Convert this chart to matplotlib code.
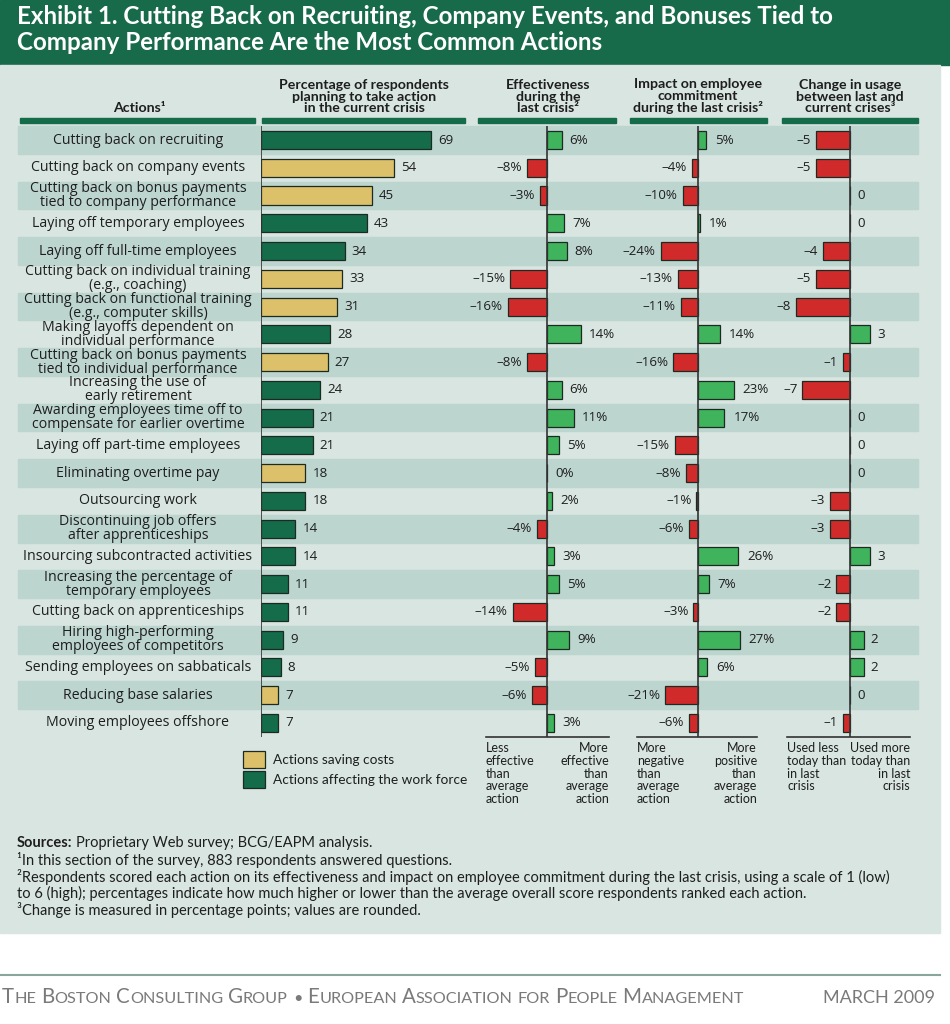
import matplotlib
matplotlib.use("Agg")
import matplotlib.pyplot as plt
from matplotlib.patches import Rectangle

# ---- data ----
actions = [
    "Cutting back on recruiting",
    "Cutting back on company events",
    "Cutting back on bonus payments\ntied to company performance",
    "Laying off temporary employees",
    "Laying off full-time employees",
    "Cutting back on individual training\n(e.g., coaching)",
    "Cutting back on functional training\n(e.g., computer skills)",
    "Making layoffs dependent on\nindividual performance",
    "Cutting back on bonus payments\ntied to individual performance",
    "Increasing the use of\nearly retirement",
    "Awarding employees time off to\ncompensate for earlier overtime",
    "Laying off part-time employees",
    "Eliminating overtime pay",
    "Outsourcing work",
    "Discontinuing job offers\nafter apprenticeships",
    "Insourcing subcontracted activities",
    "Increasing the percentage of\ntemporary employees",
    "Cutting back on apprenticeships",
    "Hiring high-performing\nemployees of competitors",
    "Sending employees on sabbaticals",
    "Reducing base salaries",
    "Moving employees offshore",
]
pct_planning = [69, 54, 45, 43, 34, 33, 31, 28, 27, 24, 21, 21, 18, 18, 14, 14, 11, 11, 9, 8, 7, 7]
saves_costs = [False, True, True, False, False, True, True, False, True, False, False,
               False, True, False, False, False, False, False, False, False, True, False]
effectiveness = [6, -8, -3, 7, 8, -15, -16, 14, -8, 6, 11, 5, 0, 2, -4, 3, 5, -14, 9, -5, -6, 3]
impact = [5, -4, -10, 1, -24, -13, -11, 14, -16, 23, 17, -15, -8, -1, -6, 26, 7, -3, 27, 6, -21, -6]
usage_change = [-5, -5, 0, 0, -4, -5, -8, 3, -1, -7, 0, 0, 0, -3, -3, 3, -2, -2, 2, 2, 0, -1]

title = ("Exhibit 1. Cutting Back on Recruiting, Company Events, and Bonuses Tied to\n"
         "Company Performance Are the Most Common Actions")
col_titles = ["Actions\u00b9",
              "Percentage of respondents\nplanning to take action\nin the current crisis",
              "Effectiveness\nduring the\nlast crisis\u00b2",
              "Impact on employee\ncommitment\nduring the last crisis\u00b2",
              "Change in usage\nbetween last and\ncurrent crises\u00b3"]
footnotes = [
    "\u00b9In this section of the survey, 883 respondents answered questions.",
    "\u00b2Respondents scored each action on its effectiveness and impact on employee commitment during the last crisis, using a scale of 1 (low)",
    "to 6 (high); percentages indicate how much higher or lower than the average overall score respondents ranked each action.",
    "\u00b3Change is measured in percentage points; values are rounded.",
]

# ---- style ----
DARK = "#146c4b"
GOLD = "#dcc06a"
POS = "#3fb45c"
NEG = "#d02a2b"
EDGE = "#1c2b22"
PANEL = "#d8e5e0"
STRIPE = "#bdd5cf"
TXT = "#1e1e1e"
COND = ["Lato", "DejaVu Sans"]
BODY = ["Open Sans", "DejaVu Sans"]

W, H = 950, 1024
ROW0, ROWH = 140.0, 27.76
TOP = ROW0 - ROWH / 2
BOT = ROW0 + (len(actions) - 0.5) * ROWH

fig = plt.figure(figsize=(W / 100, H / 100), dpi=100)
bg = fig.add_axes([0, 0, 1, 1], zorder=0)
bg.set_xlim(0, W)
bg.set_ylim(H, 0)
bg.axis("off")
r = fig.canvas.get_renderer()

# title band and panel
bg.add_patch(Rectangle((0, 0), W, 65, color="#186b4a"))
bg.add_patch(Rectangle((0, 65), 940, 868, color=PANEL))
bg.text(17, 29.5, title, color="white", fontsize=17.4, fontweight="bold", family=COND,
        va="center", ha="left", linespacing=1.13)

# column headers
head_x = [139, 364, 548, 698, 850]
for x, t in zip(head_x, col_titles):
    bg.text(x, 114, t, ha="center", va="bottom", fontsize=10.2, fontweight="bold",
            family=COND, color=TXT, linespacing=0.94)
for x0, x1 in [(20, 255), (262, 465), (478, 616), (630, 767), (782, 918)]:
    bg.add_patch(Rectangle((x0, 118), x1 - x0, 5, color=DARK))

# stripes and row labels
for i, lab in enumerate(actions):
    yc = ROW0 + i * ROWH
    if i % 2 == 0:
        bg.add_patch(Rectangle((18, yc - ROWH / 2), 900, ROWH, color=STRIPE))
    bg.text(138, yc, lab, ha="center", va="center", fontsize=10.2, family=BODY,
            color=TXT, linespacing=0.9)


def column(x0, x1, zero_px, px_per_unit):
    ax = fig.add_axes([x0 / W, 1 - BOT / H, (x1 - x0) / W, (BOT - TOP) / H], zorder=1)
    ax.set_xlim((x0 - zero_px) / px_per_unit, (x1 - zero_px) / px_per_unit)
    ax.set_ylim(len(actions) - 0.5, -0.5)
    ax.patch.set_alpha(0)
    for s in ax.spines.values():
        s.set_visible(False)
    ax.set_xticks([])
    ax.set_yticks([])
    return ax


rows = list(range(len(actions)))

# percentage planning
ax1 = column(261, 470, 261, 2.464)
ax1.barh(rows, pct_planning, height=0.65, color=[GOLD if c else DARK for c in saves_costs],
         edgecolor=EDGE, linewidth=0.9)
ax1.axvline(0, color="#333333", lw=1.2)
for i, v in enumerate(pct_planning):
    ax1.annotate(str(v), (v, i), xytext=(7, 0), textcoords="offset pixels",
                 ha="left", va="center", fontsize=9.6, family=BODY, color=TXT)


def diverging(ax, vals, suffix, pos_pad, neg_pad):
    ax.barh(rows, vals, height=0.65, color=[POS if v > 0 else NEG for v in vals],
            edgecolor=EDGE, linewidth=0.9)
    ax.axvline(0, color="#333333", lw=1.2)
    for i, v in enumerate(vals):
        s = (str(v) if v >= 0 else "\u2013" + str(-v)) + suffix
        if v >= 0:
            ax.annotate(s, (v, i), xytext=(pos_pad, 0), textcoords="offset pixels",
                        ha="left", va="center", fontsize=9.6, family=BODY, color=TXT)
        else:
            ax.annotate(s, (v, i), xytext=(-neg_pad, 0), textcoords="offset pixels",
                        ha="right", va="center", fontsize=9.6, family=BODY, color=TXT)


ax2 = column(478, 620, 547, 2.45)
diverging(ax2, effectiveness, "%", 8, 5)
ax3 = column(628, 770, 698, 1.55)
diverging(ax3, impact, "%", 9, 5)
ax4 = column(780, 918, 850, 6.8)
diverging(ax4, usage_change, "", 7, 5)

# bottom axis lines and end labels
for x0, x1 in [(486, 609), (637, 757), (787, 910)]:
    bg.plot([x0, x1], [BOT, BOT], color="#333333", lw=1.2, zorder=2)
end_labels = [
    (486, "left", "Less\neffective\nthan\naverage\naction"),
    (609, "right", "More\neffective\nthan\naverage\naction"),
    (637, "left", "More\nnegative\nthan\naverage\naction"),
    (757, "right", "More\npositive\nthan\naverage\naction"),
    (787, "left", "Used less\ntoday than\nin last\ncrisis"),
    (910, "right", "Used more\ntoday than\nin last\ncrisis"),
]
for x, ha, t in end_labels:
    bg.text(x, 742, t, ha=ha, va="top", fontsize=9, family=COND, color=TXT,
            linespacing=1.08, multialignment=ha)

# legend
bg.add_patch(Rectangle((243, 751), 22, 17, facecolor=GOLD, edgecolor=EDGE, lw=0.9))
bg.add_patch(Rectangle((243, 771), 22, 17, facecolor=DARK, edgecolor=EDGE, lw=0.9))
bg.text(273, 760, "Actions saving costs", va="center", fontsize=9.8, family=COND, color=TXT)
bg.text(273, 780, "Actions affecting the work force", va="center", fontsize=9.8,
        family=COND, color=TXT)

# footnotes
t = bg.text(17, 843, "Sources:", fontsize=10.5, fontweight="bold", family=COND,
            color=TXT, va="center")
w = t.get_window_extent(r).width
bg.text(17 + w + 4, 843, "Proprietary Web survey; BCG/EAPM analysis.", fontsize=10.5,
        family=COND, color=TXT, va="center")
for k, line in enumerate(footnotes):
    bg.text(17, 860 + k * 16.8, line, fontsize=10.5, family=COND, color=TXT, va="center")

# footer
bg.plot([0, 940], [975, 975], color="#8aa59c", lw=1.5)


def small_caps(x, y, s, big, small, color):
    for word in s.split(" "):
        if word[0].isupper():
            first, rest = word[0], word[1:]
        else:
            first, rest = "", word
        if first:
            tt = bg.text(x, y, first, fontsize=big, family=COND, color=color, va="baseline")
            x += tt.get_window_extent(r).width
        if rest:
            tt = bg.text(x, y, rest.upper(), fontsize=small, family=COND, color=color,
                         va="baseline")
            x += tt.get_window_extent(r).width
        x += 5


small_caps(2, 1003, "The Boston Consulting Group \u2022 European Association for People Management",
           14.8, 11.7, "#7a7a7a")
bg.text(935, 1003, "MARCH 2009", ha="right", va="baseline", fontsize=13, family=COND,
        color="#7a7a7a")

fig.savefig("out.png", dpi=100)
